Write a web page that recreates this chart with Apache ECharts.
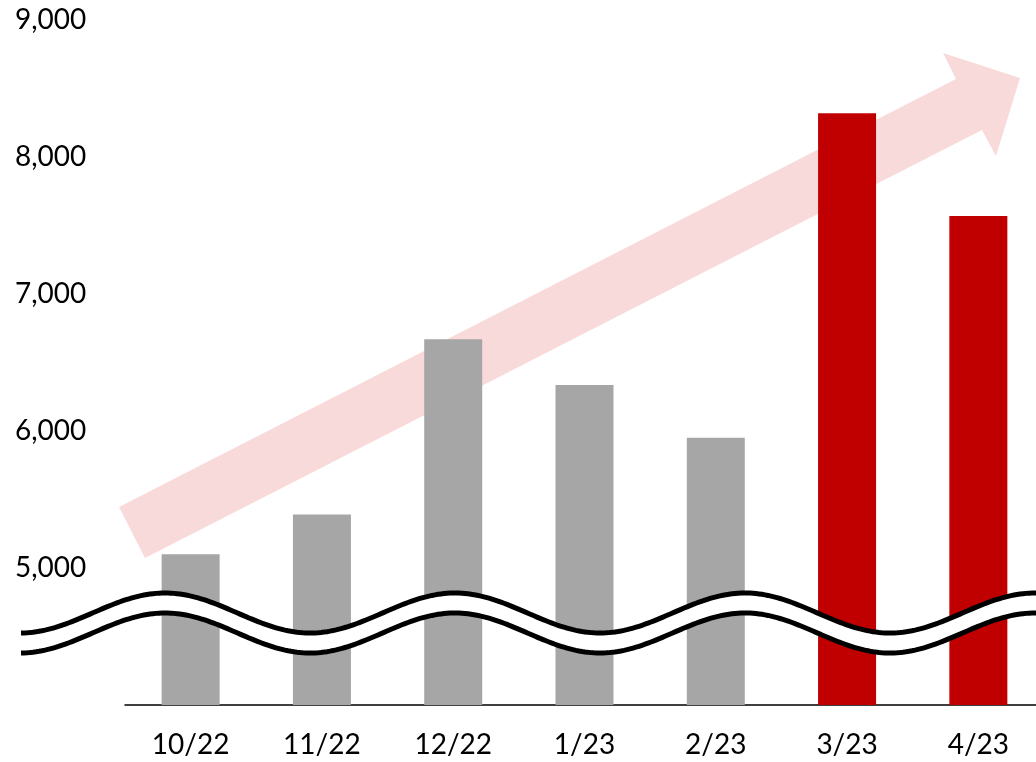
<!DOCTYPE html>
<html>
<head>
<meta charset="utf-8">
<script src="https://cdn.jsdelivr.net/npm/echarts@6/dist/echarts.min.js"></script>
<style>
  html, body { margin: 0; padding: 0; background: #fff; }
  #main { width: 1036px; height: 762px; }
</style>
</head>
<body>
<div id="main"></div>
<script>
// 月份
var months = ['10/22', '11/22', '12/22', '1/23', '2/23', '3/23', '4/23'];
// 数值
var counts = [5100, 5390, 6670, 6335, 5950, 8320, 7570];
// 哪几个月标红
var highlight = [false, false, false, false, false, true, true];
// y轴刻度
var yMin = 4000;
var yMax = 9000;
var yStep = 1000;

var GRAY = '#A6A6A6';
var RED = '#C00000';

var barData = counts.map(function (v, i) {
    return { value: v, itemStyle: { color: highlight[i] ? RED : GRAY } };
});

// 波浪线（断轴符号）
function wave(offset) {
    var pts = [];
    for (var x = 21; x <= 1040; x += 3) {
        pts.push([x, 613 + offset - 20 * Math.cos(2 * Math.PI * (x - 165) / 290)]);
    }
    return pts;
}
var upper = wave(0);
var lower = wave(20);
var band = upper.concat(lower.slice().reverse());

var myChart = echarts.init(document.getElementById('main'));

var option = {
    animation: false,
    backgroundColor: '#fff',
    textStyle: { fontFamily: 'Lato' },
    grid: {
        left: 125,
        width: 919,
        top: 20,
        bottom: 57,
        containLabel: false,
        outerBoundsMode: 'none'
    },
    xAxis: {
        type: 'category',
        data: months,
        axisLine: { lineStyle: { color: '#000', width: 1.5 } },
        axisTick: { show: false },
        axisLabel: {
            color: '#000',
            fontSize: 28,
            lineHeight: 28,
            margin: 26,
            fontFamily: 'Lato'
        }
    },
    yAxis: {
        type: 'value',
        min: yMin,
        max: yMax,
        interval: yStep,
        axisLine: { show: false },
        axisTick: { show: false },
        splitLine: { show: false },
        axisLabel: {
            showMinLabel: false,
            align: 'left',
            margin: 110,
            color: '#000',
            fontSize: 28,
            fontFamily: 'Lato',
            formatter: function (v) { return v.toLocaleString('en-US'); }
        }
    },
    series: [
        {
            type: 'bar',
            data: barData,
            barWidth: 58,
            z: 5
        }
    ],
    graphic: {
        elements: [
            {
                // 趋势箭头
                type: 'polygon',
                z: 1,
                silent: true,
                shape: {
                    points: [[119, 507], [956, 79], [943, 53], [1020, 78], [996, 156], [982, 130], [145, 558]]
                },
                style: { fill: '#F9DADA' }
            },
            {
                type: 'polygon',
                z: 20,
                silent: true,
                shape: { points: band },
                style: { fill: '#fff' }
            },
            {
                type: 'polyline',
                z: 21,
                silent: true,
                shape: { points: upper },
                style: { stroke: '#000', lineWidth: 5, fill: null }
            },
            {
                type: 'polyline',
                z: 21,
                silent: true,
                shape: { points: lower },
                style: { stroke: '#000', lineWidth: 5, fill: null }
            }
        ]
    }
};

myChart.setOption(option);
</script>
</body>
</html>
